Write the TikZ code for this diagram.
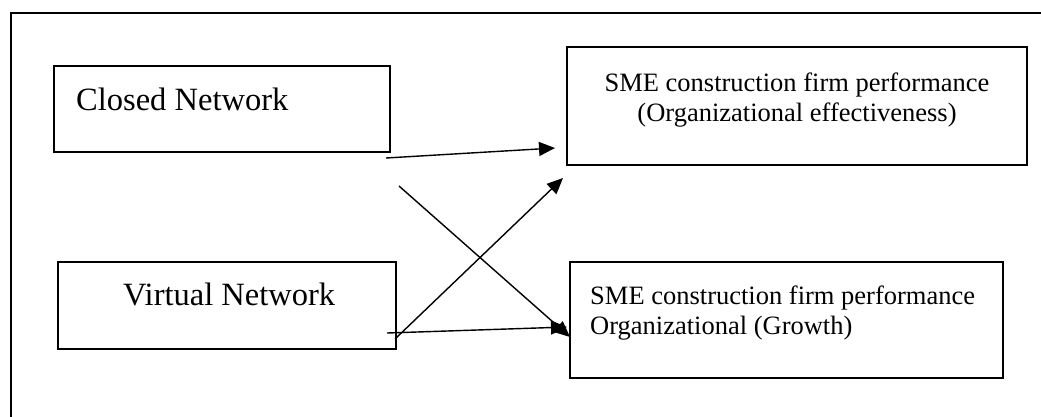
\documentclass[tikz,border=0pt]{standalone}
\usepackage{fontspec}
\setmainfont{Liberation Serif}
\usetikzlibrary{arrows.meta}

\begin{document}
\begin{tikzpicture}[x=1pt, y=-1pt,
		box/.style={draw, line width=2.8pt},
		link/.style={line width=1.4pt, -{Triangle[length=16pt, width=14pt]}},
		bigtext/.style={font=\fontsize{32.5}{39}\selectfont, inner sep=0pt},
		smalltext/.style={font=\fontsize{26.5}{29.5}\selectfont, inner sep=0pt}]
		\clip (0,0) rectangle (1041,416);
		\fill[white] (0,0) rectangle (1041,416);
		
		% Outer frame
		\draw[line width=2.8pt] (11,430) -- (11,13) -- (1060,13);
		
		% Network boxes
		\draw[box] (54,66) rectangle (390,152);
		\draw[box] (58,262) rectangle (396,349);
		\node[bigtext, anchor=base west] (closed) at (76,110) {Closed Network};
		\node[bigtext, anchor=base west] (virtual) at (123,305) {Virtual Network};
		
		% Performance boxes
		\draw[box] (567,47) rectangle (1027,165);
		\draw[box] (570,262) rectangle (1003,378);
		\node[smalltext, align=center] (effect) at (797,100) {SME construction firm performance\\(Organizational effectiveness)};
		\node[smalltext, align=left, anchor=west] (growth) at (590,313) {SME construction firm performance\\Organizational (Growth)};
		
		% Arrow ends
		\coordinate (c1) at (386,158);
		\coordinate (c2) at (399,186);
		\coordinate (v1) at (395,339);
		\coordinate (v2) at (387,333);
		\coordinate (e1) at (555,148);
		\coordinate (e2) at (563,178);
		\coordinate (g1) at (570,337);
		\coordinate (g2) at (567,327);
		
		% Arrows
		\draw[link] (c1) -- (e1);
		\draw[link] (c2) -- (g1);
		\draw[link] (v1) -- (e2);
		\draw[link] (v2) -- (g2);
	\end{tikzpicture}
\end{document}
